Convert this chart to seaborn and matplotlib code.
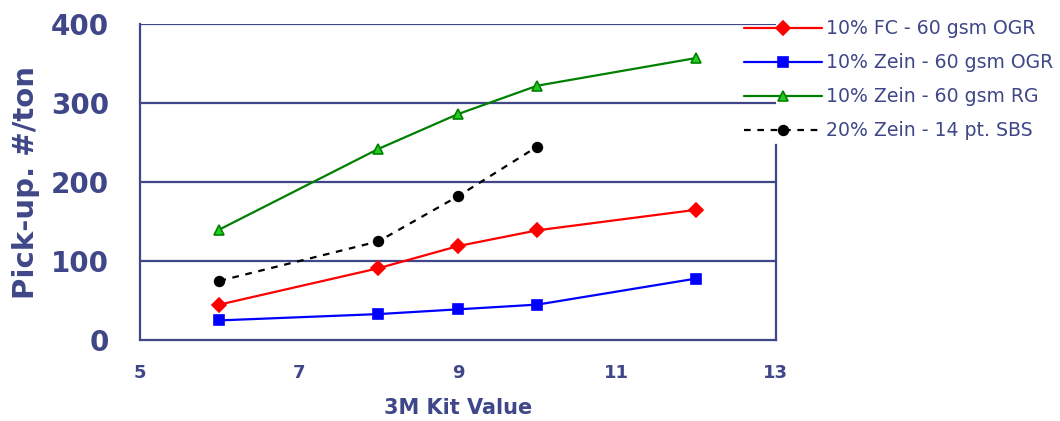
import numpy as np
import pandas as pd
import matplotlib
matplotlib.use('Agg')
import matplotlib.pyplot as plt
import seaborn as sns

# данные
kit = [6, 8, 9, 10, 12]
fc_ogr = [45, 91, 119, 139, 165]
zein_ogr = [25, 33, 39, 45, 78]
zein_rg = [140, 242, 286, 322, 357]
kit_sbs = [6, 8, 9, 10]
zein_sbs = [75, 125, 182, 245]

labels = ['10% FC - 60 gsm OGR', '10% Zein - 60 gsm OGR',
          '10% Zein - 60 gsm RG', '20% Zein - 14 pt. SBS']

navy = '#3F4788'

sns.set_style('white')
plt.rcParams['font.family'] = ['DejaVu Sans']

fig = plt.figure(figsize=(10.6, 4.21), dpi=100)
ax = fig.add_axes([0.132, 0.192, 0.600, 0.751])

# серии
series = [
    (kit, fc_ogr, labels[0], 'red', 'D', 'red', '-'),
    (kit, zein_ogr, labels[1], 'blue', 's', 'blue', '-'),
    (kit, zein_rg, labels[2], 'green', '^', '#22cc22', '-'),
    (kit_sbs, zein_sbs, labels[3], 'black', 'o', 'black', (0, (3, 3))),
]
for x, y, lab, col, mk, face, ls in series:
    df = pd.DataFrame({'x': x, 'y': y})
    sns.lineplot(data=df, x='x', y='y', ax=ax, color=col, marker=mk,
                 markerfacecolor=face, markeredgecolor=col, markersize=7 if mk != 's' else 6.5,
                 markeredgewidth=1.2, linewidth=1.6, linestyle=ls, label=lab)

ax.set_xlim(5, 13)
ax.set_ylim(0, 400)
ax.set_xticks([5, 7, 9, 11, 13])
ax.set_yticks([0, 100, 200, 300, 400])

# сетка только горизонтальная
for v in [100, 200, 300, 400]:
    ax.axhline(v, color=navy, lw=1.6, zorder=0)

for s in ['top']:
    ax.spines[s].set_visible(False)
for s in ['left', 'bottom', 'right']:
    ax.spines[s].set_color(navy)
    ax.spines[s].set_linewidth(1.6)
ax.spines['right'].set_bounds(0, 247)

ax.tick_params(axis='y', direction='out', length=8, width=1.6, color=navy,
               labelcolor=navy, labelsize=20, pad=14)
ax.tick_params(axis='x', direction='inout', length=10, width=1.6, color=navy,
               labelcolor=navy, labelsize=13, pad=12)
for t in ax.get_yticklabels() + ax.get_xticklabels():
    t.set_fontweight('bold')

ax.set_xlabel('3M Kit Value', color=navy, fontsize=15, fontweight='bold', labelpad=12)
ax.set_ylabel('Pick-up. #/ton', color=navy, fontsize=21, fontweight='bold', labelpad=8)

leg = ax.legend(loc='upper left', bbox_to_anchor=(0.697, 0.968), bbox_transform=fig.transFigure,
                frameon=False, fontsize=13.6, labelspacing=0.8, handlelength=4.1,
                handletextpad=0.2, borderaxespad=0, borderpad=0.3)
for t in leg.get_texts():
    t.set_color(navy)

fig.savefig('out.png', dpi=100)
